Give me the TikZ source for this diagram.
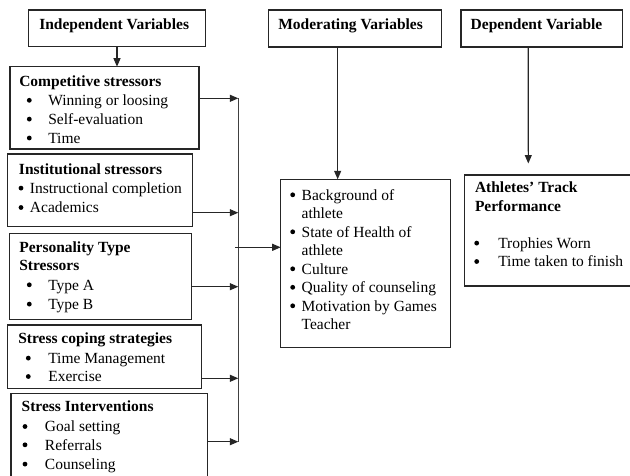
\documentclass[tikz,border=0pt]{standalone}
\usepackage{fontspec}
\setmainfont{Liberation Serif}
\usetikzlibrary{arrows.meta,calc}
\newcommand\bitem[5]{\node[dot] (#1b) at ({#2},{#4-5.2}) {}; \node[txt] (#1) at (#3,#4) {#5};}
\begin{document}
\begin{tikzpicture}[x=1pt,y=-1pt,
 box/.style={draw=black!85,line width=1.1pt,inner sep=0pt,outer sep=0pt,anchor=north west},
 txt/.style={anchor=base west,inner sep=0pt,outer sep=0pt,font=\fontsize{15.5}{18}\selectfont},
 hd/.style={anchor=base west,inner sep=0pt,outer sep=0pt,font=\fontsize{15.5}{18}\selectfont\bfseries},
 dot/.style={circle,fill=black,draw=none,inner sep=0pt,minimum size=4.8pt},
 arr/.style={draw=black!85,line width=1.1pt,-{Triangle[length=8.5pt,width=7pt]}},
 ln/.style={draw=black!75,line width=1.1pt}]
\clip (0,0) rectangle (630,475);
\fill[white] (0,0) rectangle (630,475);
% header boxes
\node[box,minimum width=177.4pt,minimum height=36.7pt] (ind) at (28.3,10) {};
\node[box,minimum width=173.4pt,minimum height=37pt] (mod) at (268.3,10) {};
\node[box,minimum width=161.3pt,minimum height=37pt] (dep) at (461,10) {};
\node[hd] (indt) at (39.3,29) {Independent Variables};
\node[hd] (modt) at (278.3,29.3) {Moderating Variables};
\node[hd] (dept) at (470.7,29.3) {Dependent Variable};
% independent boxes
\node[box,minimum width=189pt,minimum height=82.3pt] (comp) at (10,66.7) {};
\node[box,minimum width=185.4pt,minimum height=72.7pt] (inst) at (7.3,154) {};
\node[box,minimum width=182.4pt,minimum height=86pt] (pers) at (9.3,233.3) {};
\node[box,minimum width=194.4pt,minimum height=63.3pt] (cope) at (7.3,325) {};
\node[box,minimum width=196.3pt,minimum height=96.7pt] (intv) at (11,393.3) {};
% moderating and dependent boxes
\node[box,minimum width=170pt,minimum height=168pt] (modl) at (280.7,179.3) {};
\node[box,minimum width=185.3pt,minimum height=111pt] (ath) at (464.7,175) {};
% competitive
\node[hd] (comph) at (19.3,86.5) {Competitive stressors};
\bitem{c1}{29.3}{48.3}{105.5}{Winning or loosing}
\bitem{c2}{29.3}{48.3}{124.3}{Self-evaluation}
\bitem{c3}{29.3}{48.3}{143.2}{Time}
% institutional
\node[hd] (insth) at (19,174) {Institutional stressors};
\bitem{i1}{21}{30}{193.3}{Instructional completion}
\bitem{i2}{21}{30}{212.7}{Academics}
% personality
\node[hd] (persh1) at (19.3,252) {Personality Type};
\node[hd] (persh2) at (19.3,270.7) {Stressors};
\bitem{p1}{29.3}{48.3}{290}{Type A}
\bitem{p2}{29.3}{48.3}{309.3}{Type B}
% coping
\node[hd] (copeh) at (18.3,343.3) {Stress coping strategies};
\bitem{s1}{28.3}{48.3}{363.3}{Time Management}
\bitem{s2}{28.3}{48.3}{381.7}{Exercise}
% interventions
\node[hd] (intvh) at (21.7,411.7) {Stress Interventions};
\bitem{v1}{25}{45}{431.7}{Goal setting}
\bitem{v2}{25}{45}{450}{Referrals}
\bitem{v3}{25}{45}{469.3}{Counseling}
% moderating list
\bitem{m1}{292.7}{301.7}{200}{Background of}
\node[txt] (m1b2) at (301.7,218.5) {athlete};
\bitem{m2}{292.7}{301.7}{237}{State of Health of}
\node[txt] (m2b2) at (301.7,255.5) {athlete};
\bitem{m3}{292.7}{301.7}{274}{Culture}
\bitem{m4}{292.7}{301.7}{292.5}{Quality of counseling}
\bitem{m5}{292.7}{301.7}{311}{Motivation by Games}
\node[txt] (m5b2) at (301.7,329.5) {Teacher};
% athletes
\node[hd] (athh1) at (475,192.7) {Athletes’ Track};
\node[hd] (athh2) at (475,211.7) {Performance};
\bitem{a1}{476.7}{498.3}{248.3}{Trophies Worn}
\bitem{a2}{476.7}{498.3}{266.7}{Time taken to finish}
% connectors
\draw[arr] (ind.south) -- (ind.south |- comp.north);
\coordinate (mtop) at ($(mod.south west)!0.4!(mod.south east)$);
\draw[arr] (mtop) -- (mtop |- modl.north);
\coordinate (dtop) at ($(dep.south west)!0.417!(dep.south east)$);
\coordinate (dend) at (528.3,163.5);
\draw[arr] (dtop) -- (dend);
\coordinate (b1) at (238.3,98.3);
\coordinate (b2) at (238.3,212.7);
\coordinate (b3) at (238.3,286.7);
\coordinate (b4) at (238.3,378.3);
\coordinate (b5) at (238.3,441.7);
\draw[ln] (b1) -- (b5);
\draw[arr] (comp.east |- b1) -- (b1);
\draw[arr] (inst.east |- b2) -- (b2);
\draw[arr] (pers.east |- b3) -- (b3);
\draw[arr] (cope.east |- b4) -- (b4);
\draw[arr] (intv.east |- b5) -- (b5);
\coordinate (bm) at (235,247.3);
\draw[arr] (bm) -- (bm -| modl.west);
\end{tikzpicture}
\end{document}
